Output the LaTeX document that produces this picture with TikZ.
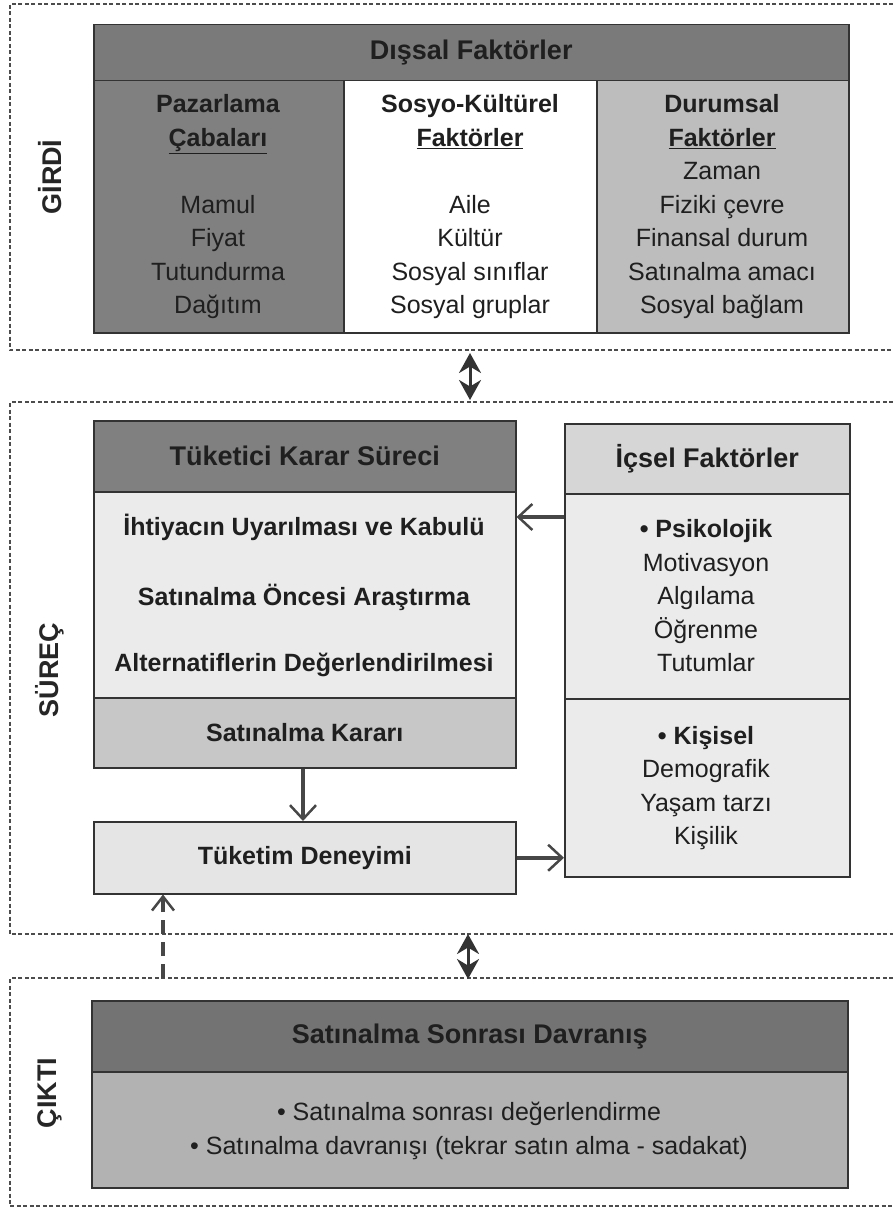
\documentclass[tikz,border=0pt]{standalone}
\usepackage{fontspec}
\setmainfont{Liberation Sans}
\usetikzlibrary{arrows.meta}
\begin{document}
\begin{tikzpicture}[x=1pt,y=-1pt,
  box/.style={draw=black!80, line width=1.5pt, rectangle, anchor=north west, inner sep=0pt, text=black!88},
  dashframe/.style={draw=black!70, line width=1.3pt, dash pattern=on 4pt off 2.5pt},
  txt/.style={font=\fontsize{25}{33.5}\selectfont, align=center, inner sep=0pt, text=black!88},
  btxt/.style={font=\fontsize{25}{33.5}\selectfont\bfseries, align=center, inner sep=0pt, text=black!88},
  hdr/.style={font=\fontsize{27}{33.5}\selectfont\bfseries},
  side/.style={font=\fontsize{27}{30}\selectfont\bfseries, rotate=90, inner sep=0pt, text=black!85},
  flow/.style={draw=black!72, line width=4pt, -{Straight Barb[length=14pt,width=26pt,line width=2.5pt]}},
  dflow/.style={draw=black!72, line width=4pt, dash pattern=on 14pt off 8pt, -{Straight Barb[length=14pt,width=22pt,line width=2.5pt]}},
  dbl/.style={draw=black!80, fill=black!80, line width=3pt, {Stealth[length=20pt,width=22pt,fill=black!80]}-{Stealth[length=20pt,width=22pt,fill=black!80]}}
]
\useasboundingbox (0,0) rectangle (893,1209);

% dashed frames
\draw[dashframe] (893,4) -- (10,4) -- (10,350) -- (893,350);
\draw[dashframe] (893,402) -- (10,402) -- (10,934) -- (893,934);
\draw[dashframe] (893,978) -- (10,978) -- (10,1206) -- (893,1206);

% side labels
\node[side] (girdi) at (50,177) {GİRDİ};
\node[side] (surec) at (50,670) {SÜREÇ};
\node[side] (cikti) at (50,1093) {ÇIKTI};

% Dissal faktorler
\node[box, fill=black!52, minimum width=755pt, minimum height=56pt, hdr] (dishead) at (93,24) {Dışsal Faktörler};
\node[box, fill=black!50, minimum width=250pt, minimum height=252pt] (colL) at (93,80) {};
\node[box, fill=white, minimum width=253pt, minimum height=252pt] (colM) at (343,80) {};
\node[box, fill=black!26, minimum width=252pt, minimum height=252pt] (colR) at (596,80) {};
\node[txt] (colLt) at (218,207) {\textbf{Pazarlama}\\\textbf{\underline{Çabaları}}\\~\\Mamul\\Fiyat\\Tutundurma\\Dağıtım};
\node[txt] (colMt) at (470,207) {\textbf{Sosyo-Kültürel}\\\textbf{\underline{Faktörler}}\\~\\Aile\\Kültür\\Sosyal sınıflar\\Sosyal gruplar};
\node[txt] (colRt) at (722,207) {\textbf{Durumsal}\\\textbf{\underline{Faktörler}}\\Zaman\\Fiziki çevre\\Finansal durum\\Satınalma amacı\\Sosyal bağlam};

% Tuketici karar sureci
\node[box, fill=black!50, minimum width=422pt, minimum height=71pt, hdr] (tkhead) at (93,420) {Tüketici Karar Süreci};
\node[box, fill=black!8, minimum width=422pt, minimum height=206pt] (tkbody) at (93,491) {};
\node[box, fill=black!22, minimum width=422pt, minimum height=70pt, btxt] (tkkarar) at (93,697) {Satınalma Kararı};
\node[btxt] (s1) at (304,527) {İhtiyacın Uyarılması ve Kabulü};
\node[btxt] (s2) at (304,597) {Satınalma Öncesi Araştırma};
\node[btxt] (s3) at (304,665) {Alternatiflerin Değerlendirilmesi};

% Tuketim deneyimi
\node[box, fill=black!10, minimum width=422pt, minimum height=72pt, btxt] (tkdeney) at (93,821) {Tüketim Deneyimi};

% Icsel faktorler
\node[box, fill=black!16, minimum width=285pt, minimum height=70pt, hdr] (ichead) at (564,423) {İçsel Faktörler};
\node[box, fill=black!8, minimum width=285pt, minimum height=205pt] (icpsy) at (564,493) {};
\node[box, fill=black!8, minimum width=285pt, minimum height=178pt] (ickis) at (564,698) {};
\node[txt] (psyt) at (706,596) {\textbf{\textbullet\ Psikolojik}\\Motivasyon\\Algılama\\Öğrenme\\Tutumlar};
\node[txt] (kist) at (706,788) {\textbf{\textbullet\ Kişisel}\\Demografik\\Yaşam tarzı\\Kişilik};

% Satinalma sonrasi davranis
\node[box, fill=black!55, minimum width=756pt, minimum height=71pt, hdr] (sshead) at (91,1000) {Satınalma Sonrası Davranış};
\node[box, fill=black!30, minimum width=756pt, minimum height=116pt] (ssbody) at (91,1071) {};
\node[txt] (sst) at (469,1131) {\textbullet\ Satınalma sonrası değerlendirme\\\textbullet\ Satınalma davranışı (tekrar satın alma - sadakat)};

% connectors
\draw[flow] ([yshift=-24pt]icpsy.north west) -- ([yshift=-24pt]icpsy.north west -| tkbody.east);
\draw[flow] (tkkarar.south -| 303,0) -- (tkdeney.north -| 303,0);
\draw[flow] (tkdeney.east) -- (tkdeney.east -| ickis.west);
\coordinate (fb) at (163,978);
\draw[dflow] (fb) -- (fb |- tkdeney.south);
\coordinate (d1a) at (470,353);
\coordinate (d1b) at (470,400);
\draw[dbl] (d1a) -- (d1b);
\coordinate (d2a) at (468,934);
\coordinate (d2b) at (468,979);
\draw[dbl] (d2a) -- (d2b);
\end{tikzpicture}
\end{document}
